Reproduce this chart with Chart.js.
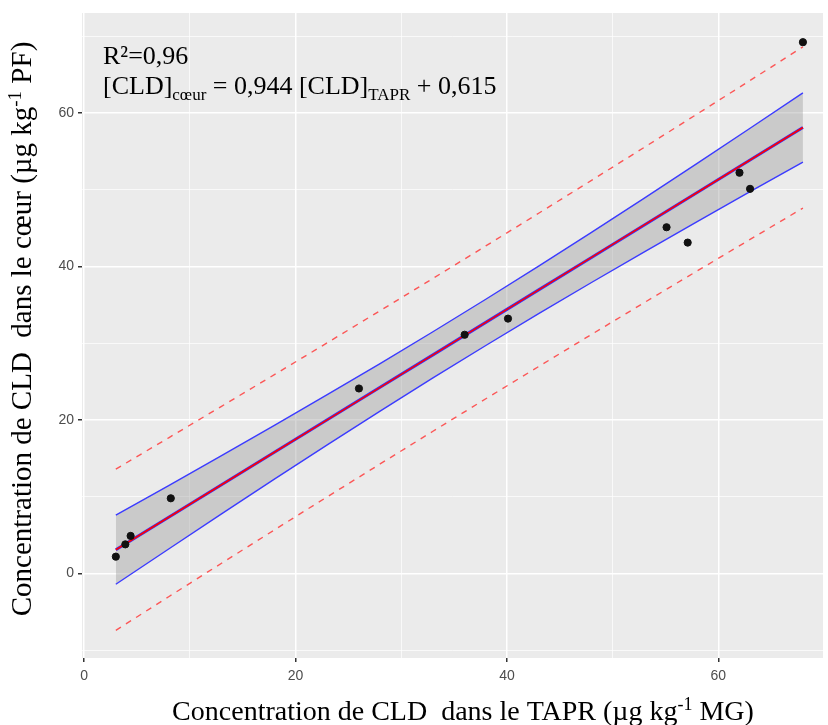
<!DOCTYPE html>
<html>
<head>
<meta charset="utf-8">
<script src="https://cdn.jsdelivr.net/npm/chart.js@4.4.0/dist/chart.umd.min.js"></script>
<style>
  body { margin: 0; background: #fff; }
</style>
</head>
<body>
<canvas id="myChart" width="828" height="725"></canvas>
<script>
// mesures : concentration dans le TAPR (x) et dans le coeur (y)
var tapr  = [3.0, 3.9, 4.4, 8.2, 26.0, 36.0, 40.1, 55.1, 57.1, 62.0, 63.0, 68.0];
var coeur = [2.2, 3.8, 4.9, 9.8, 24.1, 31.1, 33.2, 45.1, 43.1, 52.2, 50.1, 69.2];

// droite de regression et intervalles
var xLisse = [3, 8, 13, 18, 23, 28, 33, 38, 43, 48, 53, 58, 63, 68];
var yLisse = [3.10, 7.33, 11.56, 15.79, 20.02, 24.25, 28.48, 32.71, 36.94, 41.17, 45.40, 49.63, 53.86, 58.09];
var icHaut = [7.60, 11.46, 15.35, 19.29, 23.29, 27.35, 31.49, 35.72, 40.04, 44.44, 48.90, 53.42, 57.99, 62.59];
var icBas  = [-1.40, 3.20, 7.77, 12.29, 16.75, 21.15, 25.47, 29.70, 33.84, 37.90, 41.90, 45.84, 49.73, 53.59];
var ipHaut = [13.60, 17.68, 21.78, 25.90, 30.05, 34.23, 38.43, 42.66, 46.92, 51.20, 55.51, 59.85, 64.21, 68.59];
var ipBas  = [-7.40, -3.02, 1.34, 5.68, 9.99, 14.27, 18.53, 22.76, 26.96, 31.14, 35.29, 39.41, 43.51, 47.59];

var ticksX = [0, 20, 40, 60];
var ticksY = [0, 20, 40, 60];

function paires(xs, ys) {
  return xs.map(function (x, i) { return { x: x, y: ys[i] }; });
}

var serif = "'Liberation Serif', 'Times New Roman', serif";

// ecrit une suite de morceaux (indices / exposants) a partir de x
function morceaux(ctx, parts, x, y) {
  parts.forEach(function (p) {
    ctx.font = p.s + 'px ' + serif;
    ctx.fillText(p.t, x, y + (p.dy || 0));
    x += ctx.measureText(p.t).width;
  });
}
function largeur(ctx, parts) {
  var w = 0;
  parts.forEach(function (p) {
    ctx.font = p.s + 'px ' + serif;
    w += ctx.measureText(p.t).width;
  });
  return w;
}

var titreX = [
  { t: 'Concentration de CLD  dans le TAPR (µg kg', s: 28 },
  { t: '-1', s: 18, dy: -10 },
  { t: ' MG)', s: 28 }
];
var titreY = [
  { t: 'Concentration de CLD  dans le cœur (µg kg', s: 29 },
  { t: '-1', s: 19, dy: -10 },
  { t: ' PF)', s: 29 }
];
var equation = [
  { t: '[CLD]', s: 26 },
  { t: 'cœur', s: 17, dy: 6 },
  { t: ' = 0,944 [CLD]', s: 26 },
  { t: 'TAPR', s: 17, dy: 6 },
  { t: ' + 0,615', s: 26 }
];

var fond = {
  id: 'fond',
  beforeDraw: function (chart) {
    var ctx = chart.ctx, a = chart.chartArea;
    ctx.save();
    ctx.fillStyle = '#ffffff';
    ctx.fillRect(0, 0, chart.width, chart.height);
    ctx.fillStyle = '#EBEBEB';
    ctx.fillRect(a.left, a.top, a.right - a.left, a.bottom - a.top);
    ctx.restore();
  },
  afterDraw: function (chart) {
    var ctx = chart.ctx;
    ctx.save();
    ctx.fillStyle = '#000';
    ctx.textBaseline = 'alphabetic';
    morceaux(ctx, [{ t: 'R²=0,96', s: 26 }], 103, 64);
    morceaux(ctx, equation, 103, 94);

    var w = largeur(ctx, titreX);
    morceaux(ctx, titreX, 463 - w / 2, 720);

    ctx.translate(31, 329);
    ctx.rotate(-Math.PI / 2);
    w = largeur(ctx, titreY);
    morceaux(ctx, titreY, -w / 2, 0);
    ctx.restore();
  }
};

function majeur(liste) {
  return function (c) { return c.tick && liste.indexOf(c.tick.value) >= 0; };
}
var majX = majeur(ticksX), majY = majeur(ticksY);

new Chart(document.getElementById("myChart"), {
  type: 'scatter',
  data: {
    datasets: [
      {
        label: 'mesures',
        data: paires(tapr, coeur),
        backgroundColor: '#111111',
        borderColor: '#111111',
        pointRadius: 3.6,
        order: 0
      },
      {
        label: 'ajustement',
        data: paires(xLisse, yLisse),
        showLine: true,
        borderColor: '#ff0000',
        borderWidth: 1.6,
        pointRadius: 0,
        order: 1
      },
      {
        label: 'lisse',
        data: paires(xLisse, yLisse),
        showLine: true,
        borderColor: '#3333ff',
        borderWidth: 3,
        pointRadius: 0,
        order: 2
      },
      {
        label: 'IC haut',
        data: paires(xLisse, icHaut),
        showLine: true,
        borderColor: '#3b3bff',
        borderWidth: 1.4,
        pointRadius: 0,
        order: 4
      },
      {
        label: 'IC bas',
        data: paires(xLisse, icBas),
        showLine: true,
        borderColor: '#3b3bff',
        borderWidth: 1.4,
        backgroundColor: 'rgba(153,153,153,0.4)',
        fill: '-1',
        pointRadius: 0,
        order: 5
      },
      {
        label: 'IP haut',
        data: paires(xLisse, ipHaut),
        showLine: true,
        borderColor: 'rgba(255,60,60,0.85)',
        borderWidth: 1.4,
        borderDash: [6, 6],
        pointRadius: 0,
        order: 6
      },
      {
        label: 'IP bas',
        data: paires(xLisse, ipBas),
        showLine: true,
        borderColor: 'rgba(255,60,60,0.85)',
        borderWidth: 1.4,
        borderDash: [6, 6],
        pointRadius: 0,
        order: 6
      }
    ]
  },
  options: {
    responsive: false,
    animation: false,
    layout: { padding: { top: 13, right: 2, left: 0, bottom: 0 } },
    plugins: {
      legend: { display: false },
      tooltip: { enabled: false }
    },
    scales: {
      x: {
        type: 'linear',
        min: -0.2,
        max: 69.9,
        afterFit: function (s) { s.height = 67; },
        border: { display: false },
        grid: {
          color: '#ffffff',
          lineWidth: function (c) { return majX(c) ? 1.5 : 0.7; },
          tickColor: function (c) { return majX(c) ? '#333333' : 'rgba(0,0,0,0)'; },
          tickLength: 4
        },
        ticks: {
          stepSize: 10,
          includeBounds: false,
          autoSkip: false,
          maxRotation: 0,
          padding: 6,
          color: '#4D4D4D',
          font: { family: "'Liberation Sans', Arial, sans-serif", size: 14 },
          callback: function (v) { return ticksX.indexOf(v) >= 0 ? v : ''; }
        }
      },
      y: {
        type: 'linear',
        min: -11,
        max: 73,
        afterFit: function (s) { s.width = 82; },
        border: { display: false },
        grid: {
          color: '#ffffff',
          lineWidth: function (c) { return majY(c) ? 1.5 : 0.7; },
          tickColor: function (c) { return majY(c) ? '#333333' : 'rgba(0,0,0,0)'; },
          tickLength: 4
        },
        ticks: {
          stepSize: 10,
          includeBounds: false,
          autoSkip: false,
          padding: 4,
          color: '#4D4D4D',
          font: { family: "'Liberation Sans', Arial, sans-serif", size: 14 },
          callback: function (v) { return ticksY.indexOf(v) >= 0 ? v : ''; }
        }
      }
    }
  },
  plugins: [fond]
});
</script>
</body>
</html>
